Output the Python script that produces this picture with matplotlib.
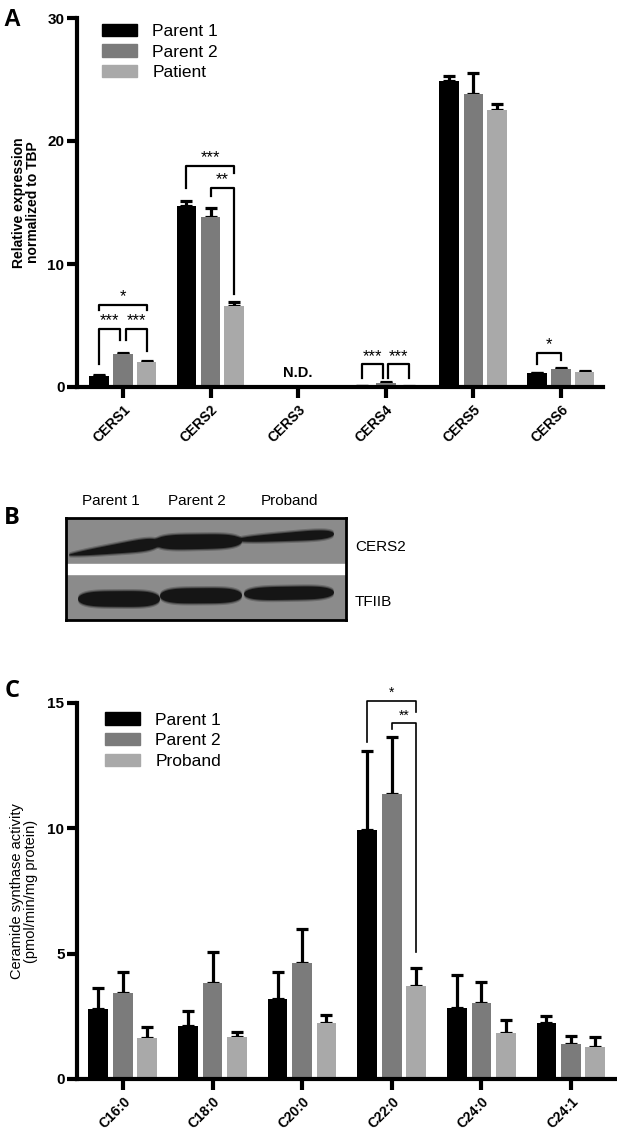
import matplotlib
matplotlib.use("Agg")
import matplotlib.pyplot as plt
import numpy as np
from matplotlib.patches import Patch

plt.rcParams["font.family"] = ["Liberation Sans", "DejaVu Sans"]

# --- panel A: relative expression (qPCR) ---
genes = ["CERS1", "CERS2", "CERS3", "CERS4", "CERS5", "CERS6"]
a_groups = ["Parent 1", "Parent 2", "Patient"]
a_parent1 = [0.9, 14.7, np.nan, 0.05, 24.9, 1.1]
a_parent1_err = [0.05, 0.4, np.nan, 0.02, 0.35, 0.05]
a_parent2 = [2.7, 13.85, np.nan, 0.35, 23.8, 1.5]
a_parent2_err = [0.1, 0.7, np.nan, 0.08, 1.7, 0.08]
a_patient = [2.0, 6.6, np.nan, 0.03, 22.5, 1.2]
a_patient_err = [0.1, 0.35, np.nan, 0.02, 0.5, 0.08]
# (group, bar i, bar j, top, left leg end, right leg end, label)
a_sig = [
    (0, 0, 2, 6.7, 6.3, 6.3, "*"),
    (0, 0, 1, 4.7, 1.9, 3.8, "***"),
    (0, 1, 2, 4.7, 3.8, 2.9, "***"),
    (1, 0, 2, 18.0, 16.2, 17.4, "***"),
    (1, 1, 2, 16.2, 15.5, 7.6, "**"),
    (3, 0, 1, 1.85, 0.7, 0.7, "***"),
    (3, 1, 2, 1.85, 0.7, 0.7, "***"),
    (5, 0, 1, 2.8, 1.85, 2.2, "*"),
]

# --- panel B: western blot ---
b_lanes = ["Parent 1", "Parent 2", "Proband"]
b_rows = ["CERS2", "TFIIB"]
# bands: (x start, x end, centre y start, centre y end, thickness start, thickness end)
b_cers2 = [(3, 94, 37, 25, 3, 15), (88, 176, 24.5, 23, 15, 14), (170, 268, 22, 16, 5, 11)]
b_tfiib = [(12, 94, 81, 81, 15, 16), (94, 176, 78, 77.5, 15, 15), (178, 268, 76, 74.5, 13, 13)]

# --- panel C: ceramide synthase activity ---
lipids = ["C16:0", "C18:0", "C20:0", "C22:0", "C24:0", "C24:1"]
c_groups = ["Parent 1", "Parent 2", "Proband"]
c_parent1 = [2.78, 2.13, 3.18, 9.92, 2.82, 2.25]
c_parent1_err = [0.86, 0.58, 1.09, 3.18, 1.33, 0.28]
c_parent2 = [3.44, 3.84, 4.61, 11.36, 3.02, 1.40]
c_parent2_err = [0.84, 1.21, 1.36, 2.30, 0.86, 0.33]
c_proband = [1.65, 1.68, 2.25, 3.71, 1.82, 1.26]
c_proband_err = [0.44, 0.21, 0.32, 0.71, 0.53, 0.43]
c_sig = [
    (3, 0, 2, 15.09, 13.45, 14.65, "*"),
    (3, 1, 2, 14.2, 13.95, 5.08, "**"),
]

COLORS = ["#000000", "#7b7b7b", "#a9a9a9"]
OFFSETS = [-0.275, 0.0, 0.27]
W, H = 617, 1136

fig = plt.figure(figsize=(W / 100, H / 100), dpi=100)


def px_box(x0, y0, x1, y1):
    """Axes rectangle from pixel corners (top-left origin)."""
    return [x0 / W, 1 - y1 / H, (x1 - x0) / W, (y1 - y0) / H]


def grouped_bars(ax, series, errs, width):
    x = np.arange(len(series[0]))
    for vals, err, off, col in zip(series, errs, OFFSETS, COLORS):
        v = np.asarray(vals, float)
        e = np.asarray(err, float)
        ax.bar(x + off, v, width, color=col, zorder=2)
        ok = ~np.isnan(v)
        ax.errorbar(x[ok] + off, v[ok], yerr=[np.zeros(ok.sum()), e[ok]], fmt="none",
                    ecolor="black", elinewidth=2.3, capsize=4, capthick=2.3, zorder=1)


def brackets(ax, specs, lw, fs, pad):
    pairs = {(g, i, j) for g, i, j, *_ in specs}
    for g, i, j, top, yl, yr, label in specs:
        xl, xr = g + OFFSETS[i], g + OFFSETS[j]
        # shared middle bar: leave a small gap between neighbouring brackets
        if j == 1 and (g, 1, 2) in pairs:
            xr -= 0.03
        if i == 1 and (g, 0, 1) in pairs:
            xl += 0.03
        ax.plot([xl, xl, xr, xr], [yl, top, top, yr], color="black", lw=lw, zorder=4,
                clip_on=False)
        ax.text((xl + xr) / 2, top + pad, label, ha="center", va="bottom", fontsize=fs,
                clip_on=False)


def style_axes(ax, labels):
    for s in ("top", "right"):
        ax.spines[s].set_visible(False)
    for s in ("left", "bottom"):
        ax.spines[s].set_linewidth(3)
    ax.tick_params(axis="y", width=3, length=7, labelsize=11, pad=2)
    ax.tick_params(axis="x", width=3, length=8, pad=3)
    for lab in ax.get_yticklabels():
        lab.set_fontweight("bold")
    ax.set_xticks(np.arange(len(labels)))
    ax.set_xticklabels(labels, rotation=45, ha="right", rotation_mode="anchor",
                       fontsize=10, fontweight="bold")


def add_legend(ax, labels, x, y):
    handles = [Patch(color=c, label=l) for c, l in zip(COLORS, labels)]
    ax.legend(handles=handles, loc="upper left", bbox_to_anchor=(x, y), frameon=False,
              fontsize=12.5, handlelength=2.0, handleheight=0.7, labelspacing=0.33,
              handletextpad=0.9, borderpad=0, borderaxespad=0)


# ---------- A ----------
axA = fig.add_axes(px_box(77, 18, 603, 387))
grouped_bars(axA, [a_parent1, a_parent2, a_patient],
             [a_parent1_err, a_parent2_err, a_patient_err], 0.225)
brackets(axA, a_sig, lw=1.6, fs=12, pad=0.05)
axA.text(2, 0.55, "N.D.", ha="center", va="bottom", fontsize=10.5, fontweight="bold")
axA.set_xlim(-0.525, 5.48)
axA.set_ylim(0, 30)
axA.set_yticks([0, 10, 20, 30])
style_axes(axA, genes)
axA.set_ylabel("Relative expression\nnormalized to TBP", fontsize=10, fontweight="bold",
               linespacing=1.0)
axA.yaxis.set_label_coords(-0.07, 0.5)
add_legend(axA, a_groups, 0.0475, 0.985)

# ---------- B ----------
axB = fig.add_axes(px_box(66, 518, 346, 620))
axB.set_xlim(0, 280)
axB.set_ylim(102, 0)
axB.set_facecolor("#8b8b8b")
axB.set_xticks([])
axB.set_yticks([])
for s in axB.spines.values():
    s.set_linewidth(2)
axB.axhspan(45.6, 55.6, color="white", zorder=1)
t = np.linspace(0, 1, 160)
for band in b_cers2 + b_tfiib:
    x0, x1, c0, c1, h0, h1 = band
    xs = x0 + (x1 - x0) * t
    yc = c0 + (c1 - c0) * t
    half = (h0 + (h1 - h0) * t) * np.sqrt(np.clip(1 - (2 * t - 1) ** 4, 0, 1)) / 2
    for grow, alpha in ((2.2, 0.25), (1.0, 0.45), (0.0, 1.0)):
        hh = half + grow * (half > 0)
        axB.fill(np.r_[xs, xs[::-1]], np.r_[yc - hh, (yc + hh)[::-1]],
                 color="#151515", alpha=alpha, lw=0, zorder=2)
for cx, lab in zip([111, 197, 290], b_lanes):
    fig.text(cx / W, 1 - 501 / H, lab, ha="center", va="center", fontsize=11)
for cy, lab in zip([547, 602], b_rows):
    fig.text(355 / W, 1 - cy / H, lab, ha="left", va="center", fontsize=11)

# ---------- C ----------
axC = fig.add_axes(px_box(77, 703, 615, 1079))
grouped_bars(axC, [c_parent1, c_parent2, c_proband],
             [c_parent1_err, c_parent2_err, c_proband_err], 0.22)
brackets(axC, c_sig, lw=1.2, fs=10, pad=0.02)
axC.set_xlim(-0.513, 5.49)
axC.set_ylim(0, 15)
axC.set_yticks([0, 5, 10, 15])
style_axes(axC, lipids)
axC.set_ylabel("Ceramide synthase activity\n(pmol/min/mg protein)", fontsize=10.5,
               linespacing=1.0)
axC.yaxis.set_label_coords(-0.072, 0.5)
add_legend(axC, c_groups, 0.052, 0.975)

# panel letters
fig.text(12 / W, 1 - 19 / H, "A", ha="center", va="center", fontsize=17, fontweight="bold")
fig.text(12 / W, 1 - 518 / H, "B", ha="center", va="center", fontsize=17,
         fontweight="bold", family=["Open Sans", "DejaVu Sans"])
fig.text(12 / W, 1 - 691 / H, "C", ha="center", va="center", fontsize=17,
         fontweight="bold", family=["Open Sans", "DejaVu Sans"])

fig.savefig("out.png", dpi=100)
